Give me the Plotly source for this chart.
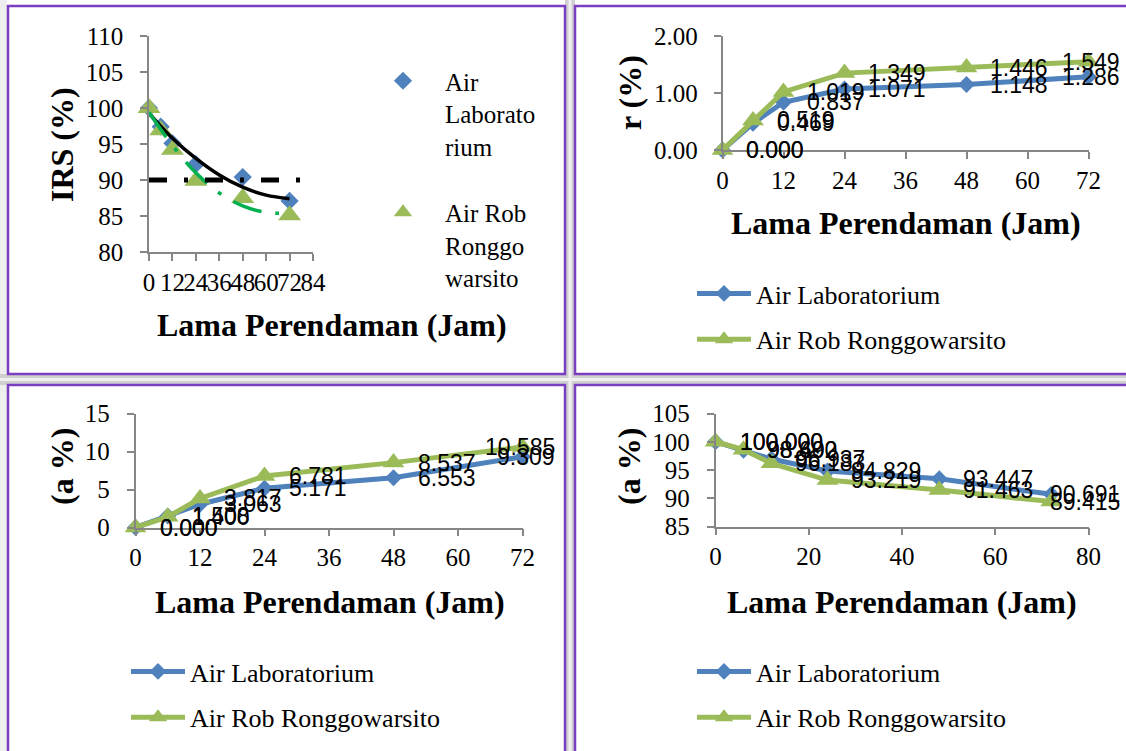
import plotly.graph_objects as go

# ---------------- data ----------------
jam = [0, 6, 12, 24, 48, 72]

# Grafik 1: IRS (%)
irs_lab = [100.0, 97.4, 95.1, 92.2, 90.4, 87.1]
irs_rob = [100.0, 96.9, 94.2, 89.9, 87.5, 85.1]
tren_x = [0, 12, 24, 36, 48, 60, 72]
tren_lab = [99.3, 95.8, 93.0, 90.7, 89.0, 87.9, 87.4]
tren_rob = [99.4, 94.8, 91.0, 88.2, 86.4, 85.5, 85.4]
batas_x = [0, 78]
batas_y = [90, 90]

# Grafik 2: r (%)
r_lab = [0.000, 0.469, 0.837, 1.071, 1.148, 1.286]
r_rob = [0.000, 0.519, 1.019, 1.349, 1.446, 1.549]

# Grafik 3: (a %)
a_lab = [0.000, 1.508, 3.063, 5.171, 6.553, 9.309]
a_rob = [0.000, 1.400, 3.817, 6.781, 8.537, 10.585]

# Grafik 4: (a %)
b_lab = [100.000, 98.492, 96.937, 94.829, 93.447, 90.691]
b_rob = [100.000, 98.600, 96.183, 93.219, 91.463, 89.415]

nama_lab = "Air Laboratorium"
nama_rob = "Air Rob Ronggowarsito"
judul_x = "Lama Perendaman (Jam)"

# ---------------- style ----------------
W, H = 1126, 751
BLUE = "#4F81BD"
GREEN = "#9BBB59"
TREND_GREEN = "#00B050"
PURPLE = "#7A3FC0"
AXIS = "#868686"
SERIF = "Liberation Serif, Times New Roman, serif"
SANS = "Liberation Sans, Arial, sans-serif"


def px(x):
    return x / W


def py(y):
    return 1 - y / H


fig = go.Figure()

# ---- Chart 1 (scatter + trend lines) ----
fig.add_trace(go.Scatter(x=jam, y=irs_lab, mode="markers", name="Air<br>Laborato<br>rium",
                         marker=dict(symbol="diamond", size=14, color=BLUE),
                         xaxis="x", yaxis="y", legend="legend", legendgroup="a1", cliponaxis=False))
fig.add_trace(go.Scatter(x=jam, y=irs_rob, mode="markers", name="Air Rob<br>Ronggo<br>warsito",
                         marker=dict(symbol="triangle-up", size=20, color=GREEN),
                         xaxis="x", yaxis="y", legend="legend", legendgroup="a2", cliponaxis=False))
fig.add_trace(go.Scatter(x=tren_x, y=tren_lab, mode="lines", line=dict(color="black", width=3.5, shape="spline"),
                         xaxis="x", yaxis="y", showlegend=False, hoverinfo="skip"))
fig.add_trace(go.Scatter(x=tren_x, y=tren_rob, mode="lines",
                         line=dict(color=TREND_GREEN, width=3.5, shape="spline", dash="30px,14px,4px,14px"),
                         xaxis="x", yaxis="y", showlegend=False, hoverinfo="skip"))
fig.add_trace(go.Scatter(x=batas_x, y=batas_y, mode="lines",
                         line=dict(color="black", width=5, dash="18px,17px,4px,17px"),
                         xaxis="x", yaxis="y", showlegend=False, hoverinfo="skip", cliponaxis=False))

# ---- Charts 2-4 (line charts) ----
charts = [
    ("x2", "y2", "legend2", r_lab, r_rob),
    ("x3", "y3", "legend3", a_lab, a_rob),
    ("x4", "y4", "legend4", b_lab, b_rob),
]
for xa, ya, lg, s_lab, s_rob in charts:
    fig.add_trace(go.Scatter(x=jam, y=s_lab, mode="lines+markers", name=nama_lab,
                             line=dict(color=BLUE, width=5),
                             marker=dict(symbol="diamond", size=13, color=BLUE),
                             xaxis=xa, yaxis=ya, legend=lg, legendgroup=lg + "a", cliponaxis=False))
    fig.add_trace(go.Scatter(x=jam, y=s_rob, mode="lines+markers", name=nama_rob,
                             line=dict(color=GREEN, width=5),
                             marker=dict(symbol="triangle-up", size=19, color=GREEN),
                             xaxis=xa, yaxis=ya, legend=lg, legendgroup=lg + "b", cliponaxis=False))

# ---- data labels ----
annotations = []
label_right_edge = {"x2": 1122, "x3": 557, "x4": 1122}
for xa, ya, lg, s_lab, s_rob in charts:
    for series in (s_lab, s_rob):
        n = len(series)
        for i, (t, v) in enumerate(zip(jam, series)):
            txt = f"{v:.3f}"
            if i < n - 1:
                annotations.append(dict(x=t, y=v, xref=xa, yref=ya, text=txt, showarrow=False,
                                        xanchor="left", yanchor="middle", xshift=22,
                                        font=dict(family=SANS, size=23, color="black")))
            else:
                annotations.append(dict(x=px(label_right_edge[xa]), y=v, xref="paper", yref=ya, text=txt,
                                        showarrow=False, xanchor="right", yanchor="middle",
                                        font=dict(family=SANS, size=23, color="black")))

# ---- axis titles ----
title_font = dict(family=SERIF, size=32, color="black")
for (cx, cy) in [(332, 325), (906, 223), (330, 602), (902, 602)]:
    annotations.append(dict(x=px(cx), y=py(cy), xref="paper", yref="paper", text="<b>" + judul_x + "</b>",
                            showarrow=False, xanchor="center", yanchor="middle", font=title_font))
for (txt, cx, cy) in [("IRS (%)", 62, 145), ("r (%)", 630, 93), ("(a %)", 62, 467), ("(a %)", 629, 467)]:
    annotations.append(dict(x=px(cx), y=py(cy), xref="paper", yref="paper", text="<b>" + txt + "</b>",
                            showarrow=False, xanchor="center", yanchor="middle", textangle=-90, font=title_font))

# ---- panels (borders and gaps) ----
shapes = []
shapes.append(dict(type="rect", xref="paper", yref="paper", x0=px(0), x1=px(7), y0=0, y1=1,
                   fillcolor="#EEEEEE", line=dict(width=0), layer="below"))
shapes.append(dict(type="rect", xref="paper", yref="paper", x0=px(565), x1=px(575), y0=0, y1=1,
                   fillcolor="#D0D0D0", line=dict(width=0), layer="below"))
shapes.append(dict(type="rect", xref="paper", yref="paper", x0=0, x1=1, y0=py(385), y1=py(374),
                   fillcolor="#D0D0D0", line=dict(width=0), layer="below"))
shapes.append(dict(type="rect", xref="paper", yref="paper", x0=px(568.5), x1=px(571.5), y0=0, y1=1,
                   fillcolor="#F0F0F0", line=dict(width=0), layer="below"))
shapes.append(dict(type="rect", xref="paper", yref="paper", x0=0, x1=1, y0=py(381), y1=py(378),
                   fillcolor="#F0F0F0", line=dict(width=0), layer="below"))
for (x0, y0, x1, y1) in [(8, 6, 565, 374), (575, 6, 1140, 374), (8, 385, 565, 765), (575, 385, 1140, 765)]:
    shapes.append(dict(type="rect", xref="paper", yref="paper", x0=px(x0), x1=px(x1), y0=py(y1), y1=py(y0),
                       fillcolor="white", line=dict(color=PURPLE, width=2.5), layer="below"))

tick_font = dict(family=SERIF, size=25, color="black")


def ax(domain, rng, dtick, anchor, standoff, fmt=None):
    d = dict(domain=domain, range=rng, dtick=dtick, tick0=rng[0], anchor=anchor, showline=True,
             linecolor=AXIS, linewidth=1.5, ticks="outside", ticklen=7, tickwidth=1.5, tickcolor=AXIS,
             showgrid=False, zeroline=False, tickfont=tick_font, tickangle=0, ticklabelstandoff=standoff,
             fixedrange=True, automargin=False)
    if fmt:
        d["tickformat"] = fmt
    return d


leg_font = dict(family=SERIF, size=26, color="black")
fig.update_layout(
    autosize=True, margin=dict(l=0, r=0, t=0, b=0, pad=0, autoexpand=False),
    paper_bgcolor="white", plot_bgcolor="rgba(0,0,0,0)",
    xaxis=ax([px(149), px(313)], [0, 84], 12, "y", 0),
    yaxis=ax([py(252), py(36)], [80, 110], 5, "x", 12),
    xaxis2=ax([px(722.5), px(1088.5)], [0, 72], 12, "y2", 0),
    yaxis2=ax([py(150), py(36)], [0, 2], 1, "x2", 11, ".2f"),
    xaxis3=ax([px(135.5), px(522.5)], [0, 72], 12, "y3", 0),
    yaxis3=ax([py(527.5), py(413.5)], [0, 15], 5, "x3", 12),
    xaxis4=ax([px(715.5), px(1088.5)], [0, 80], 20, "y4", 0),
    yaxis4=ax([py(526.5), py(413.5)], [85, 105], 5, "x4", 12),
    legend=dict(x=px(361), y=py(58), xanchor="left", yanchor="top",
                font=dict(family=SERIF, size=25, color="black"), valign="top",
                itemwidth=74, tracegroupgap=31, bgcolor="rgba(0,0,0,0)"),
    legend2=dict(x=px(692), y=py(270), xanchor="left", yanchor="top", font=leg_font,
                 itemwidth=54, tracegroupgap=9, bgcolor="rgba(0,0,0,0)"),
    legend3=dict(x=px(126), y=py(648), xanchor="left", yanchor="top", font=leg_font,
                 itemwidth=54, tracegroupgap=9, bgcolor="rgba(0,0,0,0)"),
    legend4=dict(x=px(692), y=py(648), xanchor="left", yanchor="top", font=leg_font,
                 itemwidth=54, tracegroupgap=9, bgcolor="rgba(0,0,0,0)"),
    annotations=annotations, shapes=shapes, showlegend=True,
)

fig.write_html(
    "out.html",
    config={"displayModeBar": False, "responsive": True},
    default_width="100vw",
    default_height="100vh",
    post_script=(
        "document.documentElement.style.margin='0';document.documentElement.style.padding='0';"
        "document.body.style.margin='0';document.body.style.padding='0';"
        "document.body.style.overflow='hidden';document.documentElement.style.overflow='hidden';"
        "var gd=document.getElementById('{plot_id}');"
        "if(window.Plotly&&gd){Plotly.Plots.resize(gd);}"
    ),
)
